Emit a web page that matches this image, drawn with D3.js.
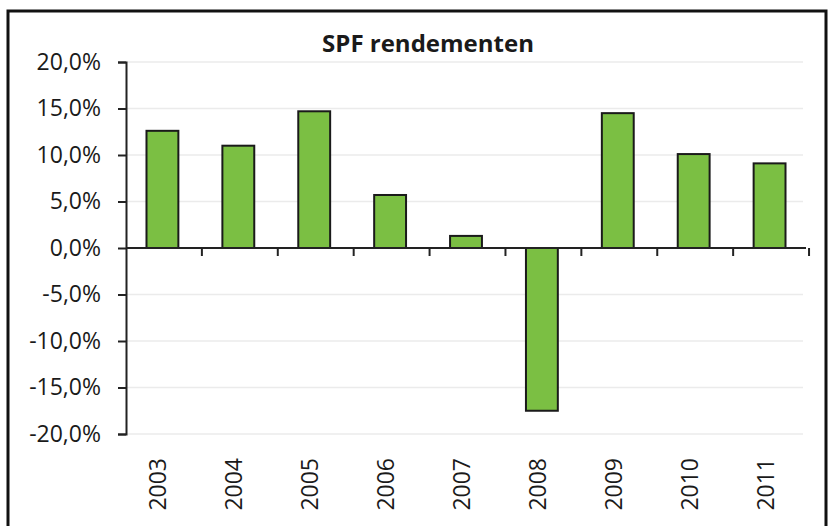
<!DOCTYPE html>
<html>
<head>
<meta charset="utf-8">
<script src="https://cdn.jsdelivr.net/npm/d3@7"></script>
<style>
  body { margin: 0; background: #fff; }
  svg { display: block; font-family: "Open Sans", sans-serif; }
</style>
</head>
<body>
<svg id="chart" width="828" height="526"></svg>
<script>
// data
const years = ['2003', '2004', '2005', '2006', '2007', '2008', '2009', '2010', '2011'];
const returns = [12.6, 11.0, 14.7, 5.7, 1.3, -17.5, 14.5, 10.1, 9.1];
const yTicks = [-20, -15, -10, -5, 0, 5, 10, 15, 20];
const title = 'SPF rendementen';

const width = 828;
const height = 526;
const margin = { top: 62, right: 22, bottom: 92, left: 126 };
const chartWidth = width - margin.left - margin.right;
const chartHeight = height - margin.top - margin.bottom;

const svg = d3.select('#chart');

// outer frame (bottom edge is cut off in the original)
svg.append('path')
    .attr('d', `M8,${height + 5} V11 H826 V${height + 5}`)
    .attr('fill', 'none')
    .attr('stroke', '#111')
    .attr('stroke-width', 3);

const g = svg.append('g')
    .attr('transform', `translate(${margin.left}, ${margin.top})`);

const xScale = d3.scaleBand()
    .domain(years)
    .range([0, chartWidth])
    .paddingInner(0.58)
    .paddingOuter(0.27);

const yScale = d3.scaleLinear()
    .domain([-20, 20])
    .range([chartHeight, 0]);

// dutch style percentages with a plain hyphen for negatives
const pct = d => (d < 0 ? '-' : '') + d3.format('.1f')(Math.abs(d)).replace('.', ',') + '%';

// gridlines
g.append('g')
    .selectAll('line')
    .data(yTicks)
    .enter()
    .append('line')
    .attr('x1', 0)
    .attr('x2', chartWidth - 3)
    .attr('y1', d => yScale(d))
    .attr('y2', d => yScale(d))
    .attr('stroke', '#ebebeb')
    .attr('stroke-width', 1.5);

// bars
g.selectAll('rect.bar')
    .data(years.map((y, i) => ({ year: y, value: returns[i] })))
    .enter()
    .append('rect')
    .attr('class', 'bar')
    .attr('x', d => xScale(d.year))
    .attr('width', xScale.bandwidth())
    .attr('y', d => yScale(Math.max(0, d.value)))
    .attr('height', d => Math.abs(yScale(d.value) - yScale(0)))
    .attr('fill', '#7bbf43')
    .attr('stroke', '#1a1a1a')
    .attr('stroke-width', 2);

// y axis
const yAxis = g.append('g')
    .call(d3.axisLeft(yScale)
        .tickValues(yTicks)
        .tickSize(8)
        .tickPadding(17)
        .tickFormat(pct))
    .attr('font-family', '"Open Sans", sans-serif');
yAxis.select('.domain').attr('stroke', '#222').attr('stroke-width', 2);
yAxis.selectAll('.tick line').attr('stroke', '#222').attr('stroke-width', 2);
yAxis.selectAll('.tick text')
    .style('font-size', '23px')
    .style('fill', '#1a1a1a');

// x axis line at zero with ticks at category boundaries
const step = xScale.step();
const x0 = xScale.range()[0];
g.append('line')
    .attr('x1', 0)
    .attr('x2', chartWidth)
    .attr('y1', yScale(0))
    .attr('y2', yScale(0))
    .attr('stroke', '#222')
    .attr('stroke-width', 2);

g.append('g')
    .selectAll('line')
    .data(d3.range(1, years.length + 1))
    .enter()
    .append('line')
    .attr('x1', i => x0 + i * step)
    .attr('x2', i => x0 + i * step)
    .attr('y1', yScale(0))
    .attr('y2', yScale(0) + 8)
    .attr('stroke', '#222')
    .attr('stroke-width', 2);

// year labels, rotated, below the plot
g.append('g')
    .selectAll('text')
    .data(years)
    .enter()
    .append('text')
    .attr('transform', d => `translate(${xScale(d) + xScale.bandwidth() / 2 + 4}, ${chartHeight + 24}) rotate(-90)`)
    .style('text-anchor', 'end')
    .style('font-size', '23px')
    .style('fill', '#1a1a1a')
    .text(d => d);

// title
svg.append('text')
    .attr('x', 428)
    .attr('y', 52)
    .style('text-anchor', 'middle')
    .style('font-size', '24px')
    .style('font-weight', 'bold')
    .style('fill', '#1a1a1a')
    .text(title);
</script>
</body>
</html>
